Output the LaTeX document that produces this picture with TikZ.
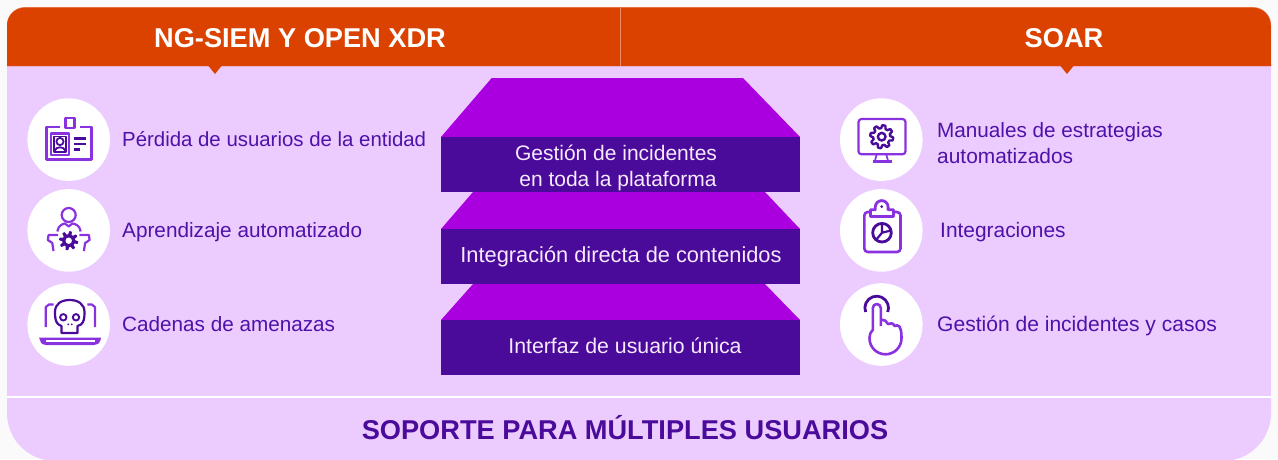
\documentclass[tikz,border=0pt]{standalone}
\usepackage{fontspec}
\setmainfont{Liberation Sans}
\definecolor{pagebg}{HTML}{FAFAFA}
\definecolor{headorange}{HTML}{DB4200}
\definecolor{headedge}{HTML}{EF8A66}
\definecolor{lilac}{HTML}{ECCBFF}
\definecolor{magentap}{HTML}{AA00E0}
\definecolor{deepp}{HTML}{4A0A9A}
\definecolor{textp}{HTML}{4E12A8}
\definecolor{iconl}{HTML}{8A32E0}
\definecolor{icond}{HTML}{4A0A9A}
\newcommand{\gearicon}[4]{% x,y,outer r,inner r
  \draw[icond,line width=2.4pt,line join=round,shift={(#1,#2)}] plot[domain=0:360,samples=121] (\x:{#3+1.5*max(-1,min(1,2*sin(8*\x+0)))}) -- cycle;
  \draw[icond,line width=2.4pt] (#1,#2) circle[radius=#4];
}
\newcommand{\solidgear}[4]{% x,y,outer r,hole r
  \fill[icond,shift={(#1,#2)}] plot[domain=0:360,samples=121] (\x:{#3+1.6*max(-1,min(1,2*sin(8*\x+0)))}) -- cycle;
  \fill[white] (#1,#2) circle[radius=#4];
}
\tikzset{
  headtext/.style={text=white,font=\bfseries\fontsize{27.2}{30}\selectfont,anchor=base,inner sep=0pt},
  foottext/.style={text=deepp,font=\bfseries\fontsize{27.2}{30}\selectfont,anchor=base,inner sep=0pt},
  bodytext/.style={text=textp,font=\fontsize{20.9}{26}\selectfont,anchor=base west,inner sep=0pt},
  stacktext/.style={text=lilac!40!white,font=\fontsize{21.5}{26}\selectfont,anchor=base,inner sep=0pt},
  iconcircle/.style={circle,fill=white,draw=none,minimum size=82.6pt,inner sep=0pt,outer sep=0pt},
  trapshape/.style={fill=magentap,draw=none},
  bandbox/.style={fill=deepp,draw=none,minimum width=359pt,minimum height=55pt,inner sep=0pt,outer sep=0pt,anchor=north west},
  iconlight/.style={draw=iconl,line width=2.2pt,line join=round},
  icondark/.style={draw=icond,line width=2.2pt,line join=round},
}
\begin{document}
\begin{tikzpicture}[x=1pt,y=-1pt]
\useasboundingbox (0,0) rectangle (1278,459);
\fill[pagebg] (0,0) rectangle (1278,459);
\clip (0,0) rectangle (1278,459);
% panels
\fill[lilac] (7,66) rectangle (1271,396);
\fill[lilac] (7,398) -- (1271,398) -- (1271,413) arc[start angle=0,end angle=90,radius=48] -- (55,461) arc[start angle=90,end angle=180,radius=48] -- cycle;
\fill[white] (7,396) rectangle (1271,398);
% header
\fill[headedge] (7,66) -- (7,25) arc[start angle=180,end angle=270,radius=18] -- (1253,7) arc[start angle=270,end angle=360,radius=18] -- (1271,66) -- cycle;
\fill[headorange] (7,66) -- (7,25.5) arc[start angle=180,end angle=270,radius=17.8] -- (1253,7.7) arc[start angle=270,end angle=360,radius=17.8] -- (1271,66) -- cycle;
\fill[headorange] (208.5,66) -- (221.5,66) -- (215,74) -- cycle;
\fill[headorange] (1060.5,66) -- (1073.5,66) -- (1067,74) -- cycle;
\draw[headedge,line width=.7pt] (620.5,8) -- (620.5,66);
\node[headtext] (h1) at (300,47.5) {NG-SIEM Y OPEN XDR};
\node[headtext] (h2) at (1064,47.5) {SOAR};
% stack
\fill[trapshape] (441,137) -- (491.7,78) -- (743,78) -- (800,137) -- cycle;
\node[bandbox] (b1) at (441,137) {};
\fill[trapshape] (441,229) -- (473,192) -- (765,192) -- (800,229) -- cycle;
\node[bandbox] (b2) at (441,229) {};
\fill[trapshape] (441,320) -- (473,284) -- (765,284) -- (800,320) -- cycle;
\node[bandbox] (b3) at (441,320) {};
\node[stacktext,font=\fontsize{21}{26}\selectfont] (s1a) at (616,160) {Gestión de incidentes};
\node[stacktext,font=\fontsize{21}{26}\selectfont] (s1b) at (618,186) {en toda la plataforma};
\node[stacktext,font=\fontsize{21.8}{26}\selectfont] (s2) at (621,262.7) {Integración directa de contenidos};
\node[stacktext,font=\fontsize{21.3}{26}\selectfont] (s3) at (625,353) {Interfaz de usuario única};
% circles
\node[iconcircle] (c1) at (68.7,139.6) {};
\node[iconcircle] (c2) at (68.7,230.4) {};
\node[iconcircle] (c3) at (68.7,324.5) {};
\node[iconcircle] (c4) at (881.3,139.6) {};
\node[iconcircle] (c5) at (881.3,230.4) {};
\node[iconcircle] (c6) at (881.3,324.5) {};
% labels
\node[bodytext,font=\fontsize{20.4}{26}\selectfont] (l1) at (122,146) {Pérdida de usuarios de la entidad};
\node[bodytext,font=\fontsize{20.75}{26}\selectfont] (l2) at (122,237) {Aprendizaje automatizado};
\node[bodytext,font=\fontsize{20.7}{26}\selectfont] (l3) at (122,331) {Cadenas de amenazas};
\node[bodytext,font=\fontsize{20.7}{26}\selectfont] (r1a) at (937,137) {Manuales de estrategias};
\node[bodytext] (r1b) at (937,163) {automatizados};
\node[bodytext] (r2) at (940,237) {Integraciones};
\node[bodytext,font=\fontsize{21.05}{26}\selectfont] (r3) at (937,331) {Gestión de incidentes y casos};
% footer
\node[foottext] (f) at (625,439) {SOPORTE PARA MÚLTIPLES USUARIOS};
% icon 1: id card
\draw[iconlight] (60,127) -- (46.5,127) -- (46.5,159.5) -- (91.5,159.5) -- (91.5,127) -- (79.5,127);
\draw[iconlight] (65.5,118) rectangle (74.5,128);
\draw[iconlight] (51,133.5) rectangle (69,155);
\draw[icondark,line width=1.6pt] (54,136.5) rectangle (66,152);
\draw[icondark,line width=1.8pt] (60,141.5) circle[radius=3.6];
\draw[icondark,line width=1.8pt] (54.5,151) .. controls (56,146) and (64,146) .. (65.5,151);
\draw[icondark] (73.5,138.5) -- (86,138.5) (73.5,144) -- (86,144) (73.5,149.5) -- (80,149.5);
% icon 2: person and gear
\draw[iconlight] (68.7,215) circle[radius=7];
\draw[iconlight] (57.3,231.5) .. controls (58,225) and (64,223.5) .. (65,223.5) -- (68.7,226.5) -- (72.4,223.5) .. controls (74,223.5) and (80,225) .. (80.7,231.5);
\draw[iconlight] (53.5,251) -- (52.3,243) -- (47.8,240) -- (48.5,235) -- (58,235);
\draw[iconlight] (83.9,251) -- (85.1,243) -- (89.6,240) -- (88.9,235) -- (79.4,235);
\solidgear{68.7}{240.7}{8}{3.2}
% icon 3: skull on laptop
\draw[iconlight] (45.8,327) -- (45.8,307) -- (49,304.5) -- (53.5,304.5);
\draw[iconlight] (95,327) -- (95,307) -- (91.8,304.5) -- (87.3,304.5);
\fill[iconl] (39,337.5) -- (101,337.5) -- (100.5,340) .. controls (99,344) and (97,345) .. (94,345) -- (46,345) .. controls (43,345) and (41,344) .. (40,340) -- cycle;
\fill[white] (46,340.3) rectangle (94.5,341.6);
\draw[icondark] (61.5,333) -- (77.5,333) -- (77.5,326) -- (81,324.5) .. controls (84,322) and (84.5,318) .. (84.5,312) .. controls (84.5,304) and (78,300) .. (69.8,300) .. controls (61,300) and (55,304) .. (55,312) .. controls (55,318) and (55.5,322) .. (58.5,324.5) -- (61.5,326) -- cycle;
\draw[icondark,line width=1.9pt] (63.3,317.3) circle[radius=3.2] (76,317.3) circle[radius=3.2];
\fill[icond] (68.2,324.3) circle[radius=1] (71.8,324.3) circle[radius=1];
% icon 4: monitor and gear
\draw[iconlight,rounded corners=3pt] (858.5,119) rectangle (905.5,154.3);
\draw[iconlight,line width=1.7pt] (876.7,154.3) -- (875,160.5) (886.2,154.3) -- (888,160.5);
\fill[iconl] (873.3,159.5) rectangle (891.7,162.5);
\gearicon{881.7}{136.7}{10}{3.8}
% icon 5: clipboard and pie chart
\draw[iconlight,line width=2.6pt,rounded corners=3.5pt] (870,212) -- (864.3,212) -- (864.3,252) -- (900.5,252) -- (900.5,212) -- (894,212);
\draw[iconlight,line width=2.8pt] (870.5,216.5) -- (870.5,209.8) -- (875.3,209.8) -- (875.3,207) arc[start angle=180,end angle=360,radius=6.4] -- (888.1,209.8) -- (893.5,209.8) -- (893.5,216.5) -- cycle;
\fill[icond] (881.7,206.7) circle[radius=1.5];
\draw[icondark,line width=2.8pt] (882,232.7) circle[radius=9.3];
\draw[icondark,line width=2.2pt] (882,224) -- (882,232.7) -- (891,230.5) (882,232.7) -- (876,240);
% icon 6: pointing hand
\draw[icondark,line width=2.8pt] (865.6,312) arc[start angle=160,end angle=380,radius=11.8];
\draw[iconlight,line width=2.6pt,line join=round] (880.8,326) -- (880.8,308) arc[start angle=360,end angle=180,radius=4] -- (872.8,330) .. controls (870,333) and (869.5,335) .. (869.5,338.3) arc[start angle=180,end angle=0,radius=16] .. controls (901.5,332) and (901,329) .. (899.5,326.5) .. controls (898,325) and (896,325) .. (894.5,326) .. controls (893.5,323) and (890,322.5) .. (888,324) .. controls (887,321) and (884,319.5) .. (880.8,319.5);
\end{tikzpicture}
\end{document}
